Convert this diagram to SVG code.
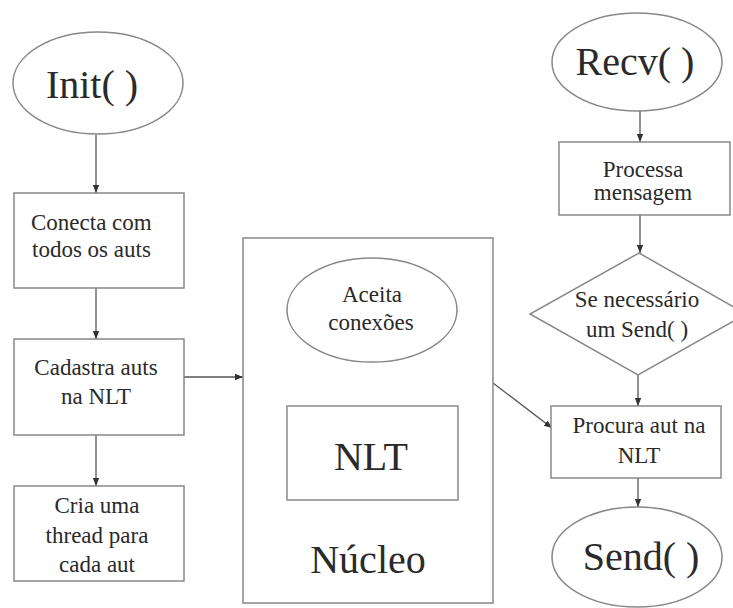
<svg xmlns="http://www.w3.org/2000/svg" width="733" height="608" viewBox="0 0 733 608">
<defs>
<marker id="ah" viewBox="0 0 10 10" refX="10" refY="5" markerWidth="8" markerHeight="8" markerUnits="userSpaceOnUse" orient="auto">
<path d="M0,1 L10,5 L0,9 z" fill="#333"/>
</marker>
<style>
.shape{fill:#fff;stroke:#888;stroke-width:1.5}
.conn{fill:none;stroke:#555;stroke-width:1.3;marker-end:url(#ah)}
.t{font-family:"Liberation Serif","Times New Roman",Times,Tinos,"Noto Serif","DejaVu Serif",FreeSerif,"Nimbus Roman",serif;fill:#2a2a2a}
.big{font-size:40px;text-anchor:middle}
.sm{font-size:23px;text-anchor:middle}
.l{text-anchor:start}
</style>
</defs>
<rect width="733" height="608" fill="#fff"/>
<g id="connectors">
<line class="conn" x1="96" y1="135" x2="96" y2="193"/>
<line class="conn" x1="96" y1="288" x2="96" y2="339"/>
<line class="conn" x1="96" y1="435" x2="96" y2="486"/>
<line class="conn" x1="184" y1="377" x2="243" y2="377"/>
<line class="conn" x1="640" y1="111" x2="640" y2="142"/>
<line class="conn" x1="640" y1="215" x2="640" y2="253"/>
<line class="conn" x1="638" y1="375" x2="638" y2="406"/>
<line class="conn" x1="638" y1="478" x2="638" y2="507"/>
<line class="conn" x1="493" y1="383" x2="552" y2="428"/>
</g>
<g id="init">
<ellipse class="shape" cx="98" cy="83" rx="85" ry="51"/>
<text class="t big" x="92" y="98">Init( )</text>
</g>
<g id="conecta">
<rect class="shape" x="14" y="193" width="170" height="95"/>
<text class="t sm l" x="31" y="230">Conecta com</text>
<text class="t sm l" x="32" y="257">todos os auts</text>
</g>
<g id="cadastra">
<rect class="shape" x="14" y="339" width="170" height="96"/>
<text class="t sm" x="96" y="375">Cadastra auts</text>
<text class="t sm" x="96" y="404">na NLT</text>
</g>
<g id="cria">
<rect class="shape" x="14" y="486" width="170" height="95"/>
<text class="t sm" x="97" y="513">Cria uma</text>
<text class="t sm" x="97" y="543">thread para</text>
<text class="t sm" x="97" y="572">cada aut</text>
</g>
<g id="nucleo">
<rect class="shape" x="243" y="238" width="250" height="365"/>
<text class="t big" x="368" y="573">Núcleo</text>
</g>
<g id="aceita">
<ellipse class="shape" cx="372" cy="310" rx="85" ry="52"/>
<text class="t sm" x="372" y="302">Aceita</text>
<text class="t sm" x="371" y="330">conexões</text>
</g>
<g id="nlt">
<rect class="shape" x="287" y="406" width="171" height="94"/>
<text class="t big" x="371" y="470">NLT</text>
</g>
<g id="recv">
<ellipse class="shape" cx="637" cy="62" rx="85" ry="49"/>
<text class="t big" x="635" y="75">Recv( )</text>
</g>
<g id="processa">
<rect class="shape" x="559" y="142" width="171" height="73"/>
<text class="t sm" x="643" y="177">Processa</text>
<text class="t sm" x="643" y="200">mensagem</text>
</g>
<g id="decisao">
<polygon class="shape" points="639,253 746,314 638,375 530,314"/>
<text class="t sm" x="637" y="307">Se necessário</text>
<text class="t sm" x="637" y="337">um Send( )</text>
</g>
<g id="procura">
<rect class="shape" x="551" y="406" width="170" height="72"/>
<text class="t sm" x="639" y="433">Procura aut na</text>
<text class="t sm" x="639" y="463">NLT</text>
</g>
<g id="send">
<ellipse class="shape" cx="637" cy="557" rx="85" ry="50"/>
<text class="t big" x="641" y="570">Send( )</text>
</g>
</svg>
